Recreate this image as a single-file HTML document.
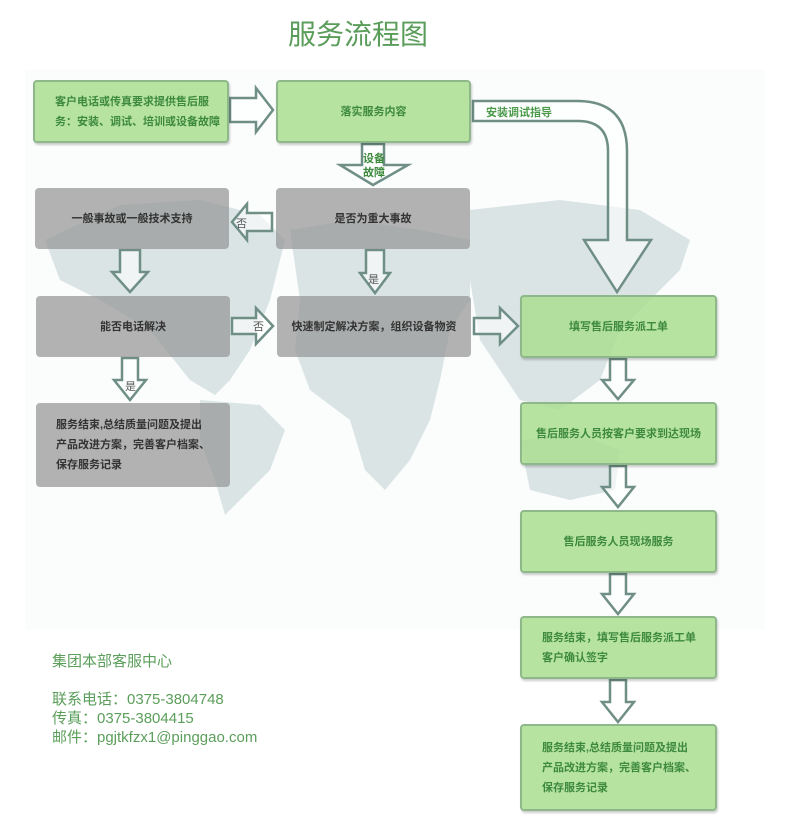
<!DOCTYPE html>
<html><head><meta charset="utf-8"><style>
body{margin:0;background:#fff;}
#c{position:relative;width:792px;height:824px;overflow:hidden;font-family:"Liberation Sans","Noto Sans CJK SC",sans-serif;}
.b{position:absolute;box-sizing:border-box;border-radius:4px;display:flex;align-items:center;justify-content:center;font-size:11px;font-weight:bold;text-align:center;line-height:20px;}
.g{background:rgba(170,222,145,0.85);border:2px solid #8fb88a;color:#3d8a3d;box-shadow:1px 2px 2px rgba(0,0,0,0.2);}
.y{background:rgba(150,150,150,0.72);color:#333;}
.l{justify-content:flex-start;text-align:left;padding-left:20px;}
svg{position:absolute;left:0;top:0;}
.t{position:absolute;color:#5b9e5b;font-size:15px;line-height:19px;}
</style></head><body><div id="c">
<svg width="792" height="824">
<rect x="25" y="70" width="740" height="560" fill="#fbfcfc"/>
<g fill="#dae4e4">
<path d="M45 240 L120 205 L200 200 L260 215 L285 240 L270 300 L250 350 L230 380 L215 395 L190 380 L150 330 L100 300 L60 280Z"/>
<path d="M200 400 L260 405 L285 430 L270 470 L240 500 L225 515 L215 480 L200 440Z"/>
<path d="M290 230 L350 220 L420 230 L470 240 L470 300 L450 330 L440 380 L430 420 L410 460 L385 490 L365 470 L350 420 L310 390 L295 350 L300 300Z"/>
<path d="M470 210 L560 200 L640 210 L690 240 L680 270 L650 300 L620 330 L600 380 L560 410 L520 400 L480 340 L470 280Z"/>
<path d="M520 440 L580 435 L620 450 L615 490 L570 500 L530 490Z"/>
</g>
<g fill="rgba(255,255,255,0.6)" stroke="#6f8f86" stroke-width="2.5">
<polygon points="230,98 256,98 256,88 273,110 256,132 256,122 230,122"/>
<polygon points="362,144 384,144 384,165 408,165 373,185 340,165 362,165"/>
<polygon points="272,213 247,213 247,204 232,222 247,240 247,231 272,231"/>
<polygon points="120,250 140,250 140,272 148,272 130,292 112,272 120,272"/>
<polygon points="366,250 384,250 384,273 390,273 375,293 360,273 366,273"/>
<polygon points="232,318 256,318 256,308 273,326 256,344 256,334 232,334"/>
<polygon points="474,318 500,318 500,308 518,326 500,344 500,334 474,334"/>
<polygon points="122,358 138,358 138,380 146,380 130,400 114,380 122,380"/>
<polygon points="610,359 626,359 626,380 634,380 618,399 602,380 610,380"/>
<polygon points="610,466 626,466 626,487 634,487 618,507 602,487 610,487"/>
<polygon points="610,574 626,574 626,594 634,594 618,614 602,594 610,594"/>
<polygon points="610,680 626,680 626,702 634,702 618,722 602,702 610,702"/>
<path d="M473 101 L577 101 Q627 101 627 151 L627 240 L651 240 L617 292 L584 240 L608 240 L608 151 Q608 121 578 121 L473 121Z"/>
</g>
<g font-size="11" font-weight="bold" fill="#3d8a3d" font-family="Liberation Sans,Noto Sans CJK SC,sans-serif">
<text x="363" y="162">设备</text><text x="363" y="176">故障</text>
<text x="486" y="116" fill="#4a9a4a">安装调试指导</text>
<text x="236" y="227" fill="#555" font-weight="normal">否</text>
<text x="253" y="330" fill="#555" font-weight="normal">否</text>
<text x="368" y="283" fill="#555" font-weight="normal">是</text>
<text x="125" y="390" fill="#555" font-weight="normal">是</text>
</g>
</svg>
<div style="position:absolute;left:0;width:716px;top:13px;text-align:center;font-size:28px;color:#5a9c5a;">服务流程图</div>
<div class="b g l" style="left:33px;top:80px;width:196px;height:63px;">客户电话或传真要求提供售后服<br>务：安装、调试、培训或设备故障</div>
<div class="b g" style="left:276px;top:80px;width:195px;height:63px;">落实服务内容</div>
<div class="b y" style="left:35px;top:188px;width:194px;height:61px;">一般事故或一般技术支持</div>
<div class="b y" style="left:276px;top:188px;width:194px;height:61px;">是否为重大事故</div>
<div class="b y" style="left:36px;top:296px;width:194px;height:61px;">能否电话解决</div>
<div class="b y" style="left:277px;top:296px;width:194px;height:61px;">快速制定解决方案，组织设备物资</div>
<div class="b y l" style="left:36px;top:403px;width:194px;height:84px;">服务结束,总结质量问题及提出<br>产品改进方案，完善客户档案、<br>保存服务记录</div>
<div class="b g" style="left:520px;top:295px;width:197px;height:63px;">填写售后服务派工单</div>
<div class="b g" style="left:520px;top:402px;width:197px;height:63px;">售后服务人员按客户要求到达现场</div>
<div class="b g" style="left:520px;top:510px;width:197px;height:63px;">售后服务人员现场服务</div>
<div class="b g l" style="left:520px;top:616px;width:197px;height:63px;">服务结束，填写售后服务派工单<br>客户确认签字</div>
<div class="b g l" style="left:520px;top:724px;width:197px;height:87px;">服务结束,总结质量问题及提出<br>产品改进方案，完善客户档案、<br>保存服务记录</div>
<div class="t" style="left:52px;top:652px;">集团本部客服中心</div>
<div class="t" style="left:52px;top:690px;">联系电话：0375-3804748<br>传真：0375-3804415<br>邮件：pgjtkfzx1@pinggao.com</div>
</div></body></html>
